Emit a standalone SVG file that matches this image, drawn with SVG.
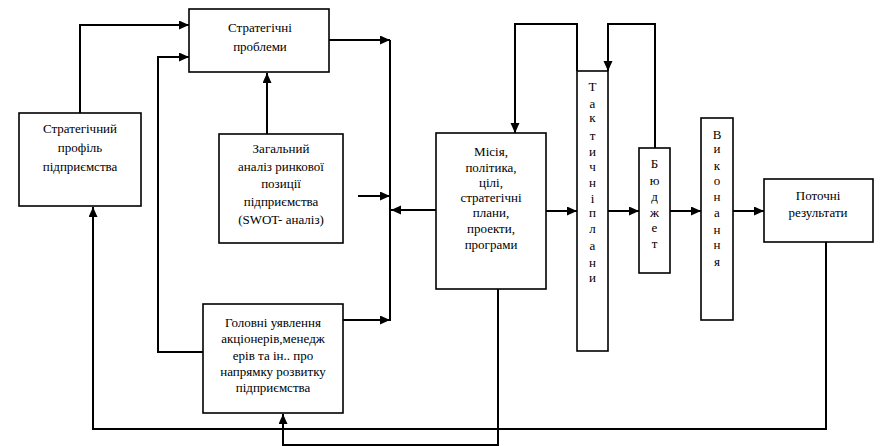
<svg xmlns="http://www.w3.org/2000/svg" width="880" height="446" viewBox="0 0 880 446">
  <defs>
    <marker id="arrow" markerWidth="11" markerHeight="10" refX="10" refY="4.5" orient="auto" markerUnits="userSpaceOnUse">
      <path d="M0,0 L10,4.5 L0,9 z" fill="#000"/>
    </marker>
    <style>
      .box { fill: #fff; stroke: #000; stroke-width: 1.6; }
      .wire { fill: none; stroke: #000; stroke-width: 2; }
      .arr { marker-end: url(#arrow); }
      .lbl { fill: #000; text-anchor: middle; font-family: "Liberation Serif", "Times New Roman", serif; font-size: 13px; }
    </style>
  </defs>
  <rect width="880" height="446" fill="#fff"/>

  <!-- connectors -->
  <g id="connectors">
    <path class="wire arr" d="M80,113 V25 H189"/>
    <path class="wire arr" d="M203,352 H158 V57 H189"/>
    <path class="wire arr" d="M267,134 V73"/>
    <path class="wire arr" d="M329,40 H390"/>
    <path class="wire" d="M390,40 V321"/>
    <path class="wire arr" d="M358,196 H390"/>
    <path class="wire arr" d="M436,210 H391"/>
    <path class="wire arr" d="M343,320 H390"/>
    <path class="wire arr" d="M546,211 H577"/>
    <path class="wire arr" d="M608,211 H639"/>
    <path class="wire arr" d="M670,211 H701"/>
    <path class="wire arr" d="M733,211 H764"/>
    <path class="wire arr" d="M577,71 V24 H515 V133"/>
    <path class="wire arr" d="M655,148 V24 H608 V71"/>
    <path class="wire arr" d="M826,242 V429 H93 V207"/>
    <path class="wire arr" d="M498,289 V445 H283 V414"/>
  </g>

  <!-- nodes -->
  <g class="lbl">
  <g id="strategic-problems">
    <rect class="box" x="189" y="9" width="140" height="63"/>
    <text x="260" y="32">Стратегічні</text>
    <text x="260" y="51">проблеми</text>
  </g>

  <g id="strategic-profile">
    <rect class="box" x="19" y="113" width="122" height="93"/>
    <text x="80" y="133">Стратегічний</text>
    <text x="80" y="152">профіль</text>
    <text x="80" y="171">підприємства</text>
  </g>

  <g id="swot-analysis">
    <rect class="box" x="219" y="134" width="124" height="109"/>
    <text x="281" y="153">Загальний</text>
    <text x="281" y="171">аналіз ринкової</text>
    <text x="281" y="188">позиції</text>
    <text x="281" y="206">підприємства</text>
    <text x="281" y="224">(SWOT- аналіз)</text>
  </g>

  <g id="stakeholder-views">
    <rect class="box" x="203" y="304" width="140" height="109"/>
    <text x="273" y="327">Головні уявлення</text>
    <text x="273" y="343">акціонерів,менедж</text>
    <text x="273" y="360">ерів та ін.. про</text>
    <text x="273" y="376">напрямку розвитку</text>
    <text x="273" y="392">підприємства</text>
  </g>

  <g id="mission">
    <rect class="box" x="436" y="133" width="110" height="156"/>
    <text x="491" y="156">Місія,</text>
    <text x="491" y="172">політика,</text>
    <text x="491" y="187">цілі,</text>
    <text x="491" y="202">стратегічні</text>
    <text x="491" y="217">плани,</text>
    <text x="491" y="233">проекти,</text>
    <text x="491" y="249">програми</text>
  </g>

  <g id="tactical-plans">
    <rect class="box" x="577" y="71" width="31" height="280"/>
    <text x="592.5" y="91">Т</text>
    <text x="592.5" y="108">а</text>
    <text x="592.5" y="122">к</text>
    <text x="592.5" y="140">т</text>
    <text x="592.5" y="156">и</text>
    <text x="592.5" y="171">ч</text>
    <text x="592.5" y="187">н</text>
    <text x="592.5" y="203">і</text>
    <text x="592.5" y="217">п</text>
    <text x="592.5" y="233">л</text>
    <text x="592.5" y="250">а</text>
    <text x="592.5" y="267">н</text>
    <text x="592.5" y="282">и</text>
  </g>

  <g id="budget">
    <rect class="box" x="639" y="148" width="31" height="125"/>
    <text x="654.5" y="168">Б</text>
    <text x="654.5" y="185">ю</text>
    <text x="654.5" y="201">д</text>
    <text x="654.5" y="217">ж</text>
    <text x="654.5" y="232">е</text>
    <text x="654.5" y="248">т</text>
  </g>

  <g id="execution">
    <rect class="box" x="701" y="118" width="32" height="202"/>
    <text x="717" y="139">В</text>
    <text x="717" y="153">и</text>
    <text x="717" y="170">к</text>
    <text x="717" y="185">о</text>
    <text x="717" y="201">н</text>
    <text x="717" y="217">а</text>
    <text x="717" y="234">н</text>
    <text x="717" y="249">н</text>
    <text x="717" y="266">я</text>
  </g>

  <g id="current-results">
    <rect class="box" x="764" y="179" width="109" height="63"/>
    <text x="818" y="200">Поточні</text>
    <text x="818" y="217">результати</text>
  </g>
  </g>
</svg>
